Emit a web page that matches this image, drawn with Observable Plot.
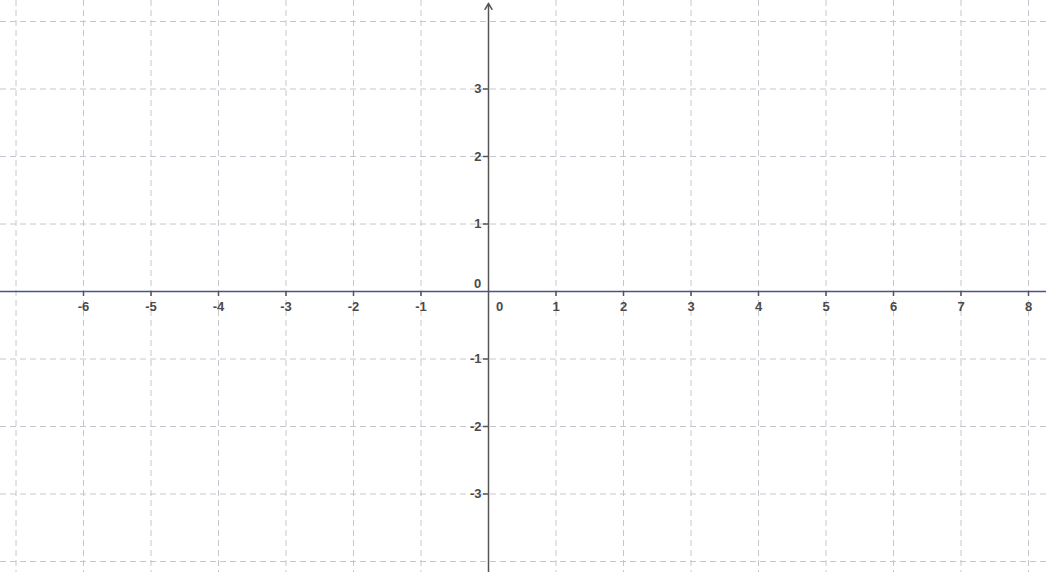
<!DOCTYPE html>
<html>
<head>
<meta charset="utf-8">
<script src="https://cdn.jsdelivr.net/npm/d3@7"></script>
<script src="https://cdn.jsdelivr.net/npm/@observablehq/plot@0.6"></script>
<style>
  html, body { margin: 0; padding: 0; background: #fff; overflow: hidden; }
  svg { display: block; }
</style>
</head>
<body>
<div id="chart"></div>
<script>
const xGrid = [-7, -6, -5, -4, -3, -2, -1, 1, 2, 3, 4, 5, 6, 7, 8];
const yGrid = [-4, -3, -2, -1, 1, 2, 3, 4];
const xLabels = [-6, -5, -4, -3, -2, -1, 1, 2, 3, 4, 5, 6, 7, 8];
const yLabels = [-3, -2, -1, 1, 2, 3];
const origin = [0];

const unit = 67.5;           // pixels per unit in the reference
const xDomain = [-488 / unit, (1046 - 488) / unit];
const yDomain = [-(572 - 291) / unit, 291 / unit];
const tickLen = 5 / unit;

const plot = Plot.plot({
  width: 1046,
  height: 572,
  margin: 0,
  x: {domain: xDomain, axis: null},
  y: {domain: yDomain, axis: null},
  style: {fontFamily: "Arial, 'Liberation Sans', sans-serif", background: "#fff"},
  marks: [
    Plot.ruleX(xGrid, {x: d => d, stroke: "#c6c6d0", strokeWidth: 1, strokeDasharray: "6,4"}),
    Plot.ruleY(yGrid, {y: d => d, stroke: "#c6c6d0", strokeWidth: 1, strokeDasharray: "6,4"}),
    // x axis
    Plot.ruleY(origin, {y: d => d, stroke: "#4a5585", strokeWidth: 1.5}),
    // y axis with arrow
    Plot.arrow(origin, {x1: d => d, x2: d => d, y1: () => yDomain[0], y2: () => 4.27, stroke: "#555", strokeWidth: 1.5, headLength: 7}),
    // tick marks
    Plot.ruleX(xLabels, {x: d => d, y1: () => 0, y2: () => -tickLen, stroke: "#555", strokeWidth: 1.5}),
    Plot.ruleY(yLabels, {y: d => d, x1: () => -tickLen, x2: () => 0, stroke: "#555", strokeWidth: 1.5}),
    // tick labels
    Plot.text(xLabels, {x: d => d, y: () => 0, text: d => String(d), dy: 15, fill: "#4a4a4a", fontSize: 13, fontWeight: "bold"}),
    Plot.text(yLabels, {x: () => 0, y: d => d, text: d => String(d), dx: -7, textAnchor: "end", fill: "#4a4a4a", fontSize: 13, fontWeight: "bold"}),
    Plot.text(origin, {x: d => d, y: d => d, text: d => String(d), dx: -11, dy: -8, fill: "#4a4a4a", fontSize: 13, fontWeight: "bold"}),
    Plot.text(origin, {x: d => d, y: d => d, text: d => String(d), dx: 11, dy: 15, fill: "#4a4a4a", fontSize: 13, fontWeight: "bold"})
  ]
});

document.getElementById("chart").append(plot);
</script>
</body>
</html>
